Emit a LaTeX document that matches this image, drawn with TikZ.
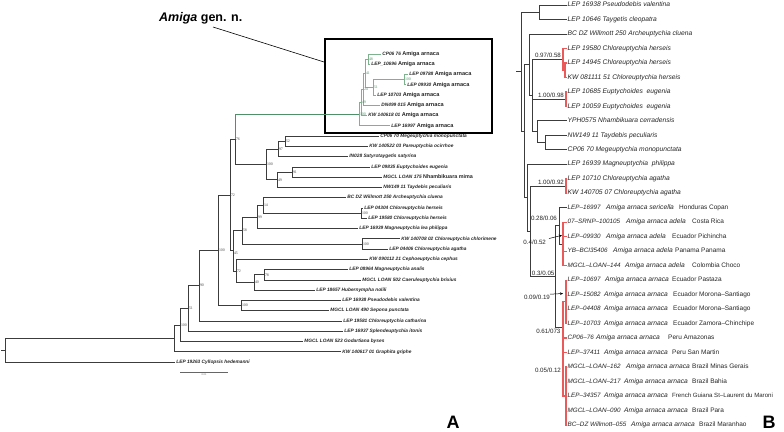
\documentclass[tikz,border=0pt]{standalone}
\usepackage{fontspec}
\setmainfont{Liberation Sans}
\newfontfamily\numfont{Liberation Serif}
\usetikzlibrary{arrows.meta}
\definecolor{amgreen}{RGB}{78,145,105}
\definecolor{amlight}{RGB}{125,178,140}
\definecolor{redbr}{RGB}{235,90,90}
\definecolor{brgrey}{RGB}{60,60,60}
\tikzset{
 brA/.style={draw=brgrey, line width=0.75pt},
 brG/.style={draw=amgreen, line width=0.8pt},
 brL/.style={draw=amlight, line width=0.95pt},
 brB/.style={draw=brgrey, line width=0.75pt},
 brR/.style={draw=redbr, line width=1.2pt},
 leaftxtA/.style={anchor=west, inner sep=0pt, text height=3.4pt, text depth=1pt, font={\fontsize{4.8}{5}\selectfont\bfseries\itshape}, text=black!85},
 supA/.style={anchor=west, inner sep=0.8pt, font={\numfont\fontsize{3.9}{4}\selectfont}, text=black!70},
 supG/.style={supA, text=amgreen},
 leaftxtB/.style={anchor=west, inner sep=0pt, text height=4.7pt, text depth=1.3pt, font={\fontsize{6.7}{7}\selectfont\itshape}, text=black!85},
 idtxtB/.style={leaftxtB, font={\fontsize{6.3}{7}\selectfont\itshape}},
 ctrytxtB/.style={anchor=west, inner sep=0pt, text height=4.7pt, text depth=1.3pt, font={\fontsize{6.5}{7}\selectfont}, text=black!85},
 supB/.style={inner sep=0.4pt, font={\fontsize{6.2}{7}\selectfont}, text=black!85},
 biglab/.style={anchor=base, inner sep=0pt, font={\fontsize{18}{18}\selectfont\bfseries}},
}
\newcommand\lfA[4]{\coordinate (#1) at (#2,{54+10.27*#3});\node[leaftxtA] (#1t) at ({#2+1.2},{54+10.27*#3}) {#4};}
\newcommand\amlf[4]{\coordinate (#1) at (#2,{54+10.27*#3});\node[leaftxtA] (#1t) at ({#2+1.2},{54+10.27*#3}) {#4 {\upshape\fontsize{5.6}{6}\selectfont Amiga arnaca}};}
\newcommand\lfB[3]{\coordinate (#1) at (566.5,{5+14.48*#2});\node[leaftxtB] (#1t) at (567.5,{5+14.48*#2}) {#3};}
\newcommand\lfBA[7]{\coordinate (#1) at (566.5,{5+14.48*#2});\node[idtxtB] (#1t) at (567.5,{5+14.48*#2}) {#3};\node[leaftxtB] (#1s) at (#4,{5+14.48*#2}) {#5};\node[ctrytxtB] (#1c) at (#6,{5+14.48*#2}) {#7};}
\begin{document}
\begin{tikzpicture}[x=1pt,y=-1pt]
\useasboundingbox (0,0) rectangle (784,431);
\fill[white] (0,0) rectangle (784,431);

% ---------------- Panel A ----------------
\node[anchor=base west, inner sep=0pt, font={\fontsize{12.5}{13}\selectfont\bfseries}] (title) at (159,21) {\textit{Amiga} gen. n.};
\coordinate (ptrs) at (213,27);
\coordinate (ptre) at (324,62);
\draw[black, line width=0.6pt] (ptrs) -- (ptre);
\node[draw=black, line width=1.6pt, anchor=north west, inner sep=0pt, minimum width=167pt, minimum height=94pt] (amigabox) at (324,38) {};

% Amiga leaves
\amlf{a0}{381}{0}{CP06 76}
\amlf{a1}{370}{1}{LEP\_10696}
\amlf{a2}{408}{2}{LEP 09788}
\amlf{a3}{406}{3}{LEP 09930}
\amlf{a4}{376}{4}{LEP 10703}
\amlf{a5}{380}{5}{DN499 015}
\amlf{a6}{367}{6}{KW 140618 01}
\amlf{a7}{390}{7}{LEP 16997}
% other leaves
\lfA{b8}{379}{8}{CP06 70 Megeuptychia monopunctata}
\lfA{b9}{368}{9}{KW 140522 03 Pareuptychia ocirrhoe}
\lfA{b10}{348}{10}{IN028 Satyrotaygetis satyrina}
\lfA{b11}{370}{11}{LEP 09835 Euptychoides eugenia}
\lfA{b12}{382}{12}{MGCL LOAN 175 {\upshape\fontsize{5.4}{6}\selectfont Nhambikuara mima}}
\lfA{b13}{382}{13}{NW149 11 Taydebis peculiaris}
\lfA{b14}{346}{14}{BC DZ Willmott 250 Archeuptychia cluena}
\lfA{b15}{363}{15}{LEP 04304 Chloreuptychia herseis}
\lfA{b16}{367}{16}{LEP 19580 Chloreuptychia herseis}
\lfA{b17}{358}{17}{LEP 16939 Magneuptychia lea philippa}
\lfA{b18}{400}{18}{KW 140708 02 Chloreuptychia chlorimene}
\lfA{b19}{388}{19}{LEP 04406 Chloreuptychia agatha}
\lfA{b20}{368}{20}{KW 090112 21 Cephoeuptychia cephus}
\lfA{b21}{348}{21}{LEP 08964 Magneuptychia analis}
\lfA{b22}{361}{22}{MGCL LOAN 502 Caeruleuptychia brixius}
\lfA{b23}{315}{23}{LEP 18657 Hubernympha nolili}
\lfA{b24}{341}{24}{LEP 16938 Pseudodebis valentina}
\lfA{b25}{329}{25}{MGCL LOAN 490 Sepona punctata}
\lfA{b26}{342}{26}{LEP 19581 Chloreuptychia catharina}
\lfA{b27}{343}{27}{LEP 16937 Splendeuptychia itonis}
\lfA{b28}{303}{28}{MGCL LOAN 523 Godartiana byses}
\lfA{b29}{341}{29}{KW 140617 01 Graphita griphe}
\lfA{b30}{175}{30}{LEP 19263 Cyllopsis hedemanni}

% internal nodes A
\coordinate (R) at (359,114.18);
\coordinate (N1) at (361,102.46);
\coordinate (N2) at (363,89.3);
\coordinate (N3) at (365,73.26);
\coordinate (N6) at (368,59.14);
\coordinate (N4) at (373,87.38);
\coordinate (N5) at (404,79.68);
\coordinate (n52) at (285,141.3);
\coordinate (n97) at (278,149.0);
\coordinate (n91) at (292,172.1);
\coordinate (n49) at (277,179.8);
\coordinate (n100a) at (266,164.4);
\coordinate (n76) at (235,139.3);
\coordinate (nh) at (361,213.2);
\coordinate (n14) at (263,205.5);
\coordinate (n99) at (257,217.0);
\coordinate (nc) at (362,244.0);
\coordinate (n58) at (242,230.5);
\coordinate (n78) at (264,274.8);
\coordinate (n40) at (254,282.5);
\coordinate (nB) at (236,271.0);
\coordinate (nA) at (233,250.7);
\coordinate (n72) at (230,195.0);
\coordinate (np) at (241,305.6);
\coordinate (n100c) at (218,250.3);
\coordinate (n90) at (199,285.7);
\coordinate (n51) at (188,308.5);
\coordinate (n180) at (180,325.0);
\coordinate (n174) at (174,338.4);
\coordinate (rootA) at (5,350.3);
\coordinate (rootAs) at (1,350.3);

% Amiga clade branches
\draw[brL] (R) |- (N1) (R) |- (a7) (N1) |- (N2) (N1) |- (a6) (N2) |- (N3) (N2) |- (a5)
  (N3) |- (N6) (N3) |- (N4) (N6) |- (a0) (N6) |- (a1) (N4) |- (N5) (N4) |- (a4)
  (N5) |- (a2) (N5) |- (a3);
\draw[brG] (n76) |- (R);
% rest of tree A
\draw[brA] (n76) |- (n100a) (n100a) |- (n97) (n100a) |- (n49)
  (n97) |- (n52) (n97) |- (b10) (n52) |- (b8) (n52) |- (b9)
  (n49) |- (n91) (n49) |- (b13) (n91) |- (b11) (n91) |- (b12)
  (n72) |- (n76) (n72) |- (nA) (nA) |- (n58) (nA) |- (nB)
  (n58) |- (n99) (n58) |- (nc) (n99) |- (n14) (n99) |- (b17)
  (n14) |- (b14) (n14) |- (nh) (nh) |- (b15) (nh) |- (b16)
  (nc) |- (b18) (nc) |- (b19) (nB) |- (b20) (nB) |- (n40)
  (n40) |- (n78) (n40) |- (b23) (n78) |- (b21) (n78) |- (b22)
  (n100c) |- (n72) (n100c) |- (np) (np) |- (b24) (np) |- (b25)
  (n90) |- (n100c) (n90) |- (b26) (n51) |- (n90) (n51) |- (b27)
  (n180) |- (n51) (n180) |- (b28) (n174) |- (n180) (n174) |- (b29)
  (rootA) |- (n174) (rootA) |- (b30) (rootAs) -- (rootA);

% support values A
\node[supG] (Rl) at (R) {100};
\node[supG] (N1l) at (N1) {49};
\node[supG] (N2l) at (N2) {24};
\node[supG] (N3l) at (N3) {41};
\node[supG] (N4l) at (N4) {51};
\node[supG] (N5l) at (N5) {100};
\node[supG] (N6l) at (N6) {48};
\node[supA] (n52l) at (n52) {52};
\node[supA] (n97l) at (n97) {97};
\node[supA] (n91l) at (n91) {91};
\node[supA] (n49l) at (n49) {49};
\node[supA] (n100al) at (n100a) {100};
\node[supA] (n76l) at (n76) {76};
\node[supA] (nhl) at (nh) {100};
\node[supA] (n14l) at (n14) {14};
\node[supA] (n99l) at (n99) {99};
\node[supA] (ncl) at (nc) {100};
\node[supA] (n58l) at (n58) {58};
\node[supA] (n78l) at (n78) {78};
\node[supA] (n40l) at (n40) {40};
\node[supA] (nBl) at (nB) {72};
\node[supA] (nAl) at ([yshift=-3pt]nA) {45};
\node[supA] (n72l) at (n72) {72};
\node[supA] (npl) at (np) {100};
\node[supA] (n100cl) at (n100c) {100};
\node[supA] (n90l) at (n90) {90};
\node[supA] (n51l) at (n51) {51};
\node[supA] (n180l) at (n180) {100};

% scale bar
\coordinate (sb1) at (180,372);
\coordinate (sb2) at (228,372);
\draw[black!60, line width=0.5pt] (sb1) -- (sb2);
\node[inner sep=0pt, font={\fontsize{2.5}{3}\selectfont}, text=black!60] (sbl) at (204,375) {0.01};

\node[biglab] (labA) at (453,428.5) {A};

% ---------------- Panel B ----------------
\lfB{q0}{0}{LEP 16938 Pseudodebis valentina}
\lfB{q1}{1}{LEP 10646 Taygetis cleopatra}
\lfB{q2}{2}{BC DZ Willmott 250 Archeuptychia cluena}
\lfB{q3}{3}{LEP 19580 Chloreuptychia herseis}
\lfB{q4}{4}{LEP 14945 Chloreuptychia herseis}
\lfB{q5}{5}{KW 081111 51 Chloreuptychia herseis}
\lfB{q6}{6}{LEP 10685 Euptychoides\ \ eugenia}
\lfB{q7}{7}{LEP 10059 Euptychoides\ \ eugenia}
\lfB{q8}{8}{YPH0575 Nhambikuara cerradensis}
\lfB{q9}{9}{NW149 11 Taydebis peculiaris}
\lfB{q10}{10}{CP06 70 Megeuptychia monopunctata}
\lfB{q11}{11}{LEP 16939 Magneuptychia\ \ philippa}
\lfB{q12}{12}{LEP 10710 Chloreuptychia agatha}
\lfB{q13}{13}{KW 140705 07 Chloreuptychia agatha}
\lfBA{q14}{14}{LEP–16997}{606}{Amiga arnaca sericella}{679}{Honduras Copan}
\lfBA{q15}{15}{07–SRNP–100105}{626}{Amiga arnaca adela}{692}{Costa Rica}
\lfBA{q16}{16}{LEP–09930}{606}{Amiga arnaca adela}{672}{Ecuador Pichincha}
\lfBA{q17}{17}{YB–BCI35406}{613}{Amiga arnaca adela}{675}{Panama Panama}
\lfBA{q18}{18}{MGCL–LOAN–144}{625}{Amiga arnaca adela}{692}{Colombia Choco}
\lfBA{q19}{19}{LEP–10697}{605}{Amiga arnaca arnaca}{672}{Ecuador Pastaza}
\lfBA{q20}{20}{LEP–15082}{604}{Amiga arnaca arnaca}{673}{Ecuador Morona–Santiago}
\lfBA{q21}{21}{LEP–04408}{604}{Amiga arnaca arnaca}{673}{Ecuador Morona–Santiago}
\lfBA{q22}{22}{LEP–10703}{604}{Amiga arnaca arnaca}{673}{Ecuador Zamora–Chinchipe}
\lfBA{q23}{23}{CP06–76}{596}{Amiga arnaca arnaca}{668}{Peru Amazonas}
\lfBA{q24}{24}{LEP–37411}{604}{Amiga arnaca arnaca}{672}{Peru San Martin}
\lfBA{q25}{25}{MGCL–LOAN–162}{626}{Amiga arnaca arnaca}{692}{Brazil Minas Gerais}
\lfBA{q26}{26}{MGCL–LOAN–217}{624}{Amiga arnaca arnaca}{692}{Brazil Bahia}
\lfBA{q27}{27}{LEP–34357}{604}{Amiga arnaca arnaca}{672}{{\fontsize{6.1}{7}\selectfont French Guiana St–Laurent du Maroni}}
\lfBA{q28}{28}{MGCL–LOAN–090}{624}{Amiga arnaca arnaca}{692}{Brazil Para}
\lfBA{q29}{29}{BC–DZ Willmott–055}{631}{Amiga arnaca arnaca}{699}{Brazil Maranhao}

% internal nodes B
\coordinate (rootB) at (521,71.7);
\coordinate (rootBs) at (516,71.7);
\coordinate (P) at (539,12.24);
\coordinate (C1) at (524,131.2);
\coordinate (C2) at (529,64.73);
\coordinate (C3) at (527,197.74);
\coordinate (C4) at (532,95.5);
\coordinate (H) at (563,59.3);
\coordinate (H2) at (565,70.16);
\coordinate (E) at (566,99.12);
\coordinate (C5) at (537,131.7);
\coordinate (C7) at (545,142.56);
\coordinate (G1) at (530,231.2);
\coordinate (AG) at (566,186.0);
\coordinate (M) at (555,276.4);
\coordinate (S1) at (559,225.82);
\coordinate (AD) at (563,243.92);
\coordinate (A0) at (563,327.0);
\coordinate (K1) at (566,301.84);
\coordinate (K2) at (566,395.96);

\draw[brB] (rootBs) -- (rootB) (rootB) |- (P) (rootB) |- (C1)
  (P) |- (q0) (P) |- (q1)
  (C1) |- (C2) (C1) |- (C3) (C2) |- (q2) (C2) |- (C4)
  (C4) |- (H) (C4) |- (E) (C4) |- (C5)
  (C5) |- (q8) (C5) |- (C7) (C7) |- (q9) (C7) |- (q10)
  (C3) |- (q11) (C3) |- (G1) (G1) |- (AG) (G1) |- (M)
  (M) |- (S1) (M) |- (A0) (S1) |- (q14) (S1) |- (AD);
\draw[brR] (H) |- (q3) (H) |- (H2) (H2) |- (q4) (H2) |- (q5)
  (E) |- (q6) (E) |- (q7) (AG) |- (q12) (AG) |- (q13)
  (AD) |- (q15) (AD) |- (q16) (AD) |- (q17) (AD) |- (q18)
  (A0) |- (K1) (A0) |- (q23) (A0) |- (q24) (A0) |- (K2)
  (K1) |- (q19) (K1) |- (q20) (K1) |- (q21) (K1) |- (q22)
  (K2) |- (q25) (K2) |- (q26) (K2) |- (q27) (K2) |- (q28) (K2) |- (q29);

% support values B
\node[supB, anchor=south east] (lH) at (561.5,58.6) {0.97/0.58};
\node[supB, anchor=south east] (lE) at (564.5,98.4) {1.00/0.98};
\node[supB, anchor=south east] (lAG) at (564.5,185.3) {1.00/0.92};
\node[supB, anchor=east] (lS1) at (557.5,218) {0.28/0.06};
\node[supB, anchor=east] (lAD) at (546.5,242) {0.4/0.52};
\node[supB, anchor=south east] (lM) at (555,275.7) {0.3/0.05};
\node[supB, anchor=east] (lK1) at (550.5,297) {0.09/0.19};
\node[supB, anchor=north east] (lA0) at (561,328.5) {0.61/073};
\node[supB, anchor=east] (lK2) at (561.5,370) {0.05/0.12};
\coordinate (ar1s) at (549,238.5);
\coordinate (ar1e) at (562,235.3);
\coordinate (ar2s) at (550,294.2);
\coordinate (ar2e) at (563,293.5);
\draw[black, line width=0.5pt, -{Stealth[length=3pt,width=2.6pt]}] (ar1s) -- (ar1e);
\draw[black, line width=0.5pt, -{Stealth[length=3pt,width=2.6pt]}] (ar2s) -- (ar2e);

\node[biglab] (labB) at (769,428.5) {B};
\end{tikzpicture}
\end{document}
